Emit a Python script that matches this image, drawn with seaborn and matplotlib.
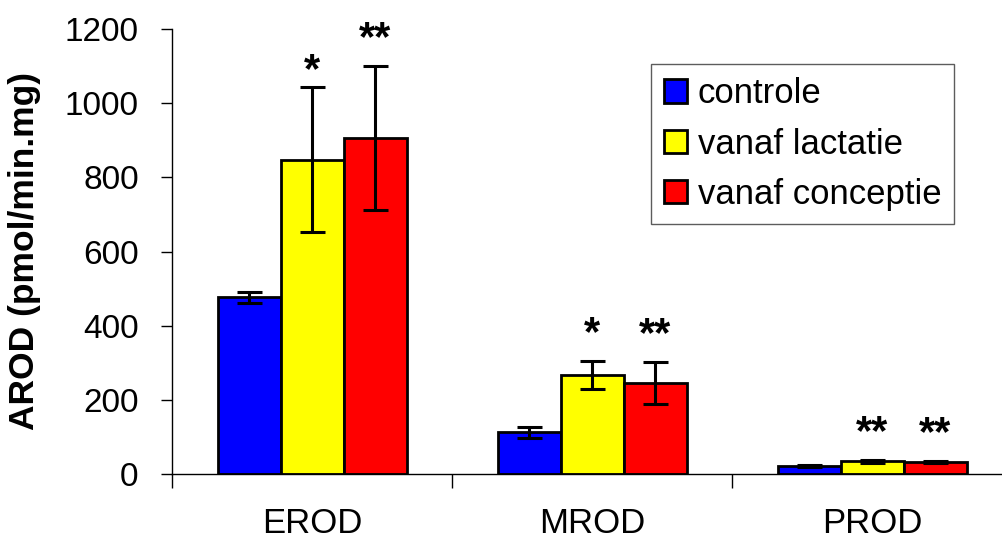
import matplotlib
matplotlib.use("Agg")
import matplotlib.pyplot as plt
import seaborn as sns
import pandas as pd
import numpy as np

categories = ["EROD", "MROD", "PROD"]
groups = ["controle", "vanaf lactatie", "vanaf conceptie"]
controle = [476, 112, 21]
lactatie = [848, 267, 34]
conceptie = [906, 245, 32]
err_controle = [16, 15, 3]
err_lactatie = [195, 38, 3.5]
err_conceptie = [195, 57, 3.5]
stars_controle = ["", "", ""]
stars_lactatie = ["*", "*", "**"]
stars_conceptie = ["**", "**", "**"]

sns.set_theme(style="white")
plt.rcParams["font.family"] = ["Liberation Sans", "DejaVu Sans"]
plt.rcParams["text.color"] = "black"
plt.rcParams["xtick.color"] = "black"
plt.rcParams["ytick.color"] = "black"
plt.rcParams["axes.labelcolor"] = "black"

rows = []
for g, vals, errs in zip(groups, [controle, lactatie, conceptie],
                         [err_controle, err_lactatie, err_conceptie]):
    for c, v, e in zip(categories, vals, errs):
        rows.append({"cat": c, "group": g, "value": v, "err": e})
df = pd.DataFrame(rows)

fig = plt.figure(figsize=(10.02, 5.39), dpi=100)
ax = fig.add_axes([172 / 1002, 65 / 539, 840 / 1002, 445 / 539])

palette = {"controle": "#0000FF", "vanaf lactatie": "#FFFF00", "vanaf conceptie": "#FF0000"}
sns.barplot(data=df, x="cat", y="value", hue="group", hue_order=groups,
            order=categories, palette=palette, width=0.675, gap=0,
            edgecolor="black", linewidth=2, errorbar=None, ax=ax,
            saturation=1)

# error bars and stars from bar patches
bars = [p for p in ax.patches if p.get_height() > 0]
bars = sorted(bars, key=lambda p: p.get_x())
errs = []
stars = []
for i in range(len(categories)):
    errs += [err_controle[i], err_lactatie[i], err_conceptie[i]]
    stars += [stars_controle[i], stars_lactatie[i], stars_conceptie[i]]
for k, (p, e, s) in enumerate(zip(bars, errs, stars)):
    xc = p.get_x() + p.get_width() / 2
    h = p.get_height()
    ax.errorbar(xc, h, yerr=e, color="black", capsize=9, elinewidth=2.2,
                capthick=2.2, fmt="none", zorder=5)
    if s:
        s_draw = " ".join(s) if len(s) > 1 else s
        off = -3 if k == 1 else 5
        ax.annotate(s, (xc, h + e), xytext=(0, off), textcoords="offset points",
                    ha="center", va="bottom", fontsize=30, fontweight="bold")

ax.set_ylim(0, 1200)
ax.set_xlim(-0.5, 2.5)
ax.set_yticks(range(0, 1201, 200))
ax.set_xticks([-0.5, 0.5, 1.5, 2.5], minor=False)
ax.set_xticklabels([])
ax.set_xticks([0, 1, 2], minor=True)
ax.set_xticklabels(categories, minor=True)
ax.tick_params(axis="x", which="major", direction="out", length=10, width=1, bottom=True)
ax.tick_params(axis="x", which="minor", length=0, labelsize=25, pad=24)
ax.tick_params(axis="y", direction="out", length=8, width=1, left=True, labelsize=24, pad=16)
ax.set_xlabel("")
ax.set_ylabel("AROD (pmol/min.mg)", fontsize=25.5, fontweight="bold")
ax.yaxis.set_label_coords((41 - 172) / 840, (474 - 251) / 445)

for side in ["top", "right"]:
    ax.spines[side].set_visible(False)
for side in ["left", "bottom"]:
    ax.spines[side].set_color("black")
    ax.spines[side].set_linewidth(1)

leg = ax.legend(loc="upper left", bbox_to_anchor=((651 - 172) / 840, (474 - 64) / 445),
                fontsize=25, frameon=True, fancybox=False, borderpad=0.38,
                handlelength=0.66, handleheight=0.66, handletextpad=0.3,
                labelspacing=0.5, borderaxespad=0)
leg.get_frame().set_edgecolor("#333333")
leg.get_frame().set_linewidth(1)
for h in leg.legend_handles:
    h.set_linewidth(2)

fig.savefig("out.png", dpi=100)
